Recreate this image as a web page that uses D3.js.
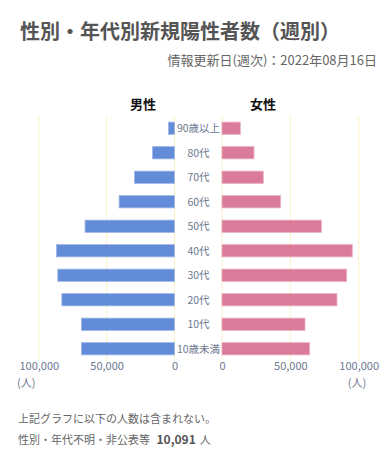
<!DOCTYPE html>
<html><head><meta charset="utf-8">
<script src="https://cdn.jsdelivr.net/npm/d3@7"></script>
<style>
body{margin:0;background:#fff;font-family:"Noto Sans CJK JP","Noto Sans",sans-serif;}
</style></head>
<body>
<svg id="c" width="390" height="453"></svg>
<script>
const categories = ["90歳以上","80代","70代","60代","50代","40代","30代","20代","10代","10歳未満"];
const male = [4400,16200,29500,40800,65900,87000,86000,83000,68600,68600];
const female = [13400,23400,30200,42900,72700,95300,91200,84100,60700,64100];
const ticks = [0,50000,100000];
const excluded = 10091;

const svg = d3.select("#c");
const font = '"Noto Sans CJK JP","Noto Sans",sans-serif';

svg.append("text").attr("x",20).attr("y",39).attr("font-size",20).attr("font-weight","bold")
  .attr("fill","#555").attr("font-family",font).text("性別・年代別新規陽性者数（週別）");
svg.append("text").attr("x",377).attr("y",65).attr("text-anchor","end").attr("font-size",13)
  .attr("fill","#666").attr("font-family",font).text("情報更新日(週次)：2022年08月16日");

const y = d3.scaleBand().domain(categories).range([116,361]).paddingInner(0.5).paddingOuter(0.25);
const xL = d3.scaleLinear().domain([0,100000]).range([174.5,38.8]);
const xR = d3.scaleLinear().domain([0,100000]).range([222,358.7]);

// grid
const g = svg.append("g");
ticks.forEach(t=>{
  [xL,xR].forEach(s=>{
    g.append("line").attr("x1",s(t)).attr("x2",s(t)).attr("y1",116).attr("y2",361)
      .attr("stroke","#fbf3c8").attr("stroke-width",1);
  });
});

svg.append("text").attr("x",143).attr("y",109).attr("text-anchor","middle").attr("font-size",13)
  .attr("font-weight","bold").attr("fill","#111").attr("font-family",font).text("男性");
svg.append("text").attr("x",263).attr("y",109).attr("text-anchor","middle").attr("font-size",13)
  .attr("font-weight","bold").attr("fill","#111").attr("font-family",font).text("女性");

svg.append("g").selectAll("rect").data(male).join("rect")
  .attr("x",d=>xL(d)).attr("width",d=>xL(0)-xL(d))
  .attr("y",(d,i)=>y(categories[i])).attr("height",y.bandwidth())
  .attr("fill","#638cd8").attr("stroke","#9db5e6").attr("stroke-width",0.8);
svg.append("g").selectAll("rect").data(female).join("rect")
  .attr("x",xR(0)).attr("width",d=>xR(d)-xR(0))
  .attr("y",(d,i)=>y(categories[i])).attr("height",y.bandwidth())
  .attr("fill","#da7c99").attr("stroke","#eab0c2").attr("stroke-width",0.8);

svg.append("g").selectAll("text").data(categories).join("text")
  .attr("x",198.5).attr("y",d=>y(d)+y.bandwidth()/2+4).attr("text-anchor","middle")
  .attr("font-size",10.5).attr("fill","#6d7891").attr("font-family",font).text(d=>d);

const fmt = d3.format(",");
const axL = d3.axisBottom(xL).tickValues(ticks).tickFormat(fmt).tickSize(0).tickPadding(0);
const axR = d3.axisBottom(xR).tickValues(ticks).tickFormat(fmt).tickSize(0).tickPadding(0);
[axL,axR].forEach(ax=>{
  const a = svg.append("g").attr("transform","translate(0,362)").call(ax);
  a.select(".domain").remove();
  a.selectAll("text").attr("font-size",11).attr("fill","#6d7891").attr("font-family",font)
    .attr("y",0).attr("dy","0.75em");
});
svg.append("text").attr("x",17).attr("y",387).attr("font-size",11).attr("fill","#6d7891")
  .attr("font-family",font).text("(人)");
svg.append("text").attr("x",357).attr("y",387).attr("text-anchor","middle").attr("font-size",11).attr("fill","#6d7891")
  .attr("font-family",font).text("(人)");

svg.append("text").attr("x",18).attr("y",423).attr("font-size",11).attr("fill","#666")
  .attr("font-family",font).text("上記グラフに以下の人数は含まれない。");
const t2 = svg.append("text").attr("x",18).attr("y",444).attr("font-size",11).attr("fill","#666").attr("font-family",font);
t2.append("tspan").text("性別・年代不明・非公表等 ");
t2.append("tspan").attr("dx",4).attr("font-weight","bold").attr("font-size",12).attr("fill","#555").text(fmt(excluded));
t2.append("tspan").attr("dx",4).text("人");
</script>
</body></html>
